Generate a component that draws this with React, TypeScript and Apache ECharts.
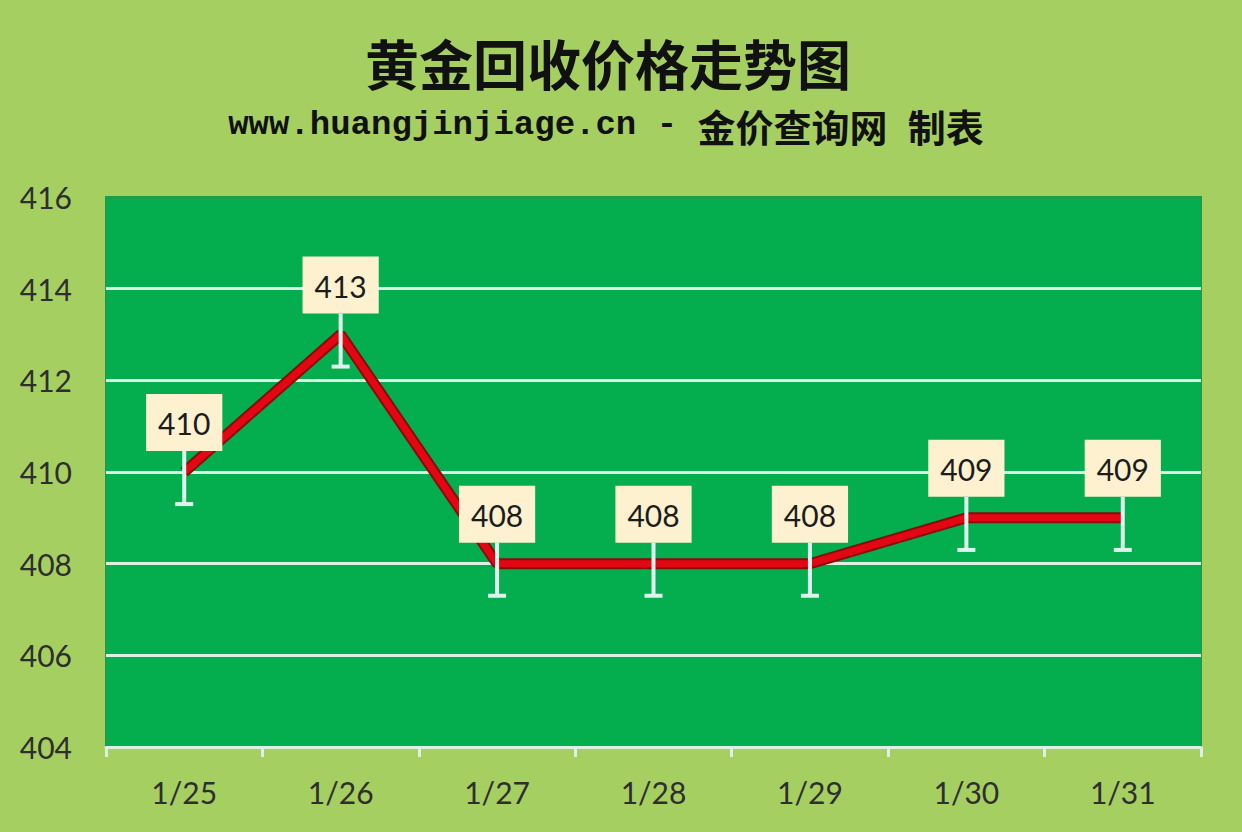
import React, { useEffect, useRef } from 'react';
import * as echarts from 'echarts';

const dates = ['1/25', '1/26', '1/27', '1/28', '1/29', '1/30', '1/31'];
const prices = [410, 413, 408, 408, 408, 409, 409];
const errorSize = 0.7;
const yMin = 404;
const yMax = 416;
const yStep = 2;

const titleText = '黄金回收价格走势图';

const App: React.FC = () => {
  const chartRef = useRef<HTMLDivElement>(null);

  useEffect(() => {
    if (!chartRef.current) return;
    const chart = echarts.init(chartRef.current, undefined, { renderer: 'svg' });

    const gridLine = '#dcf1e3';
    const plotGreen = '#04ae4f';
    const labelGap = 21;

    const option: any = {
      animation: false,
      backgroundColor: '#a6cf62',
      graphic: [
        {
          type: 'text',
          x: 608,
          y: 62,
          style: {
            text: titleText,
            font: 'bold 54px "Noto Sans CJK SC"',
            fill: '#111',
            textAlign: 'center',
            textVerticalAlign: 'middle'
          }
        },
        {
          type: 'text',
          x: 606,
          y: 125,
          style: {
            text: '{a|www.huangjinjiage.cn - }{b|金价查询网}{a| }{b|制表}',
            textAlign: 'center',
            textVerticalAlign: 'middle',
            rich: {
              a: {
                fontFamily: '"Liberation Mono", "DejaVu Sans Mono", monospace',
                fontWeight: 'bold',
                fontSize: 34,
                fill: '#111'
              },
              b: {
                fontFamily: '"Noto Sans CJK SC"',
                fontWeight: 'bold',
                fontSize: 38,
                fill: '#111'
              }
            }
          }
        }
      ],
      grid: {
        left: 106,
        right: 41,
        top: 197,
        bottom: 85,
        show: true,
        backgroundColor: plotGreen,
        borderColor: '#1f9c49',
        borderWidth: 2
      },
      xAxis: {
        type: 'category',
        data: dates,
        boundaryGap: true,
        axisLine: { lineStyle: { color: gridLine, width: 3 } },
        axisTick: { show: true, length: 10, lineStyle: { color: gridLine, width: 3 } },
        axisLabel: {
          color: '#2e2e2e',
          fontFamily: 'Lato',
          fontSize: 30,
          margin: 30
        },
        splitLine: { show: false }
      },
      yAxis: {
        type: 'value',
        min: yMin,
        max: yMax,
        interval: yStep,
        axisLine: { show: false },
        axisTick: { show: false },
        axisLabel: {
          color: '#2e2e2e',
          fontFamily: 'Lato',
          fontSize: 30,
          margin: 34
        },
        splitLine: {
          lineStyle: {
            color: [gridLine, gridLine, gridLine, gridLine, gridLine, gridLine, '#1f9c49'],
            width: 3
          }
        }
      },
      series: [
        {
          type: 'line',
          data: prices,
          symbol: 'none',
          z: 2,
          lineStyle: { color: '#8a0b0b', width: 11 }
        },
        {
          type: 'line',
          data: prices,
          symbol: 'none',
          z: 3,
          lineStyle: { color: '#e30613', width: 7 }
        },
        {
          type: 'custom',
          z: 4,
          data: prices.map((v, i) => [i, v]),
          encode: { x: 0, y: 1 },
          renderItem: (params: any, api: any) => {
            const idx = api.value(0);
            const v = api.value(1);
            const mid = api.coord([idx, v]);
            const bot = api.coord([idx, v - errorSize]);
            const cap = 9;
            const style = { stroke: '#dff3ee', lineWidth: 4 };
            return {
              type: 'group',
              children: [
                { type: 'line', shape: { x1: mid[0], y1: mid[1] - labelGap, x2: bot[0], y2: bot[1] }, style },
                { type: 'line', shape: { x1: bot[0] - cap, y1: bot[1], x2: bot[0] + cap, y2: bot[1] }, style }
              ]
            };
          }
        },
        {
          type: 'scatter',
          data: prices,
          symbolSize: 0,
          z: 5,
          itemStyle: { opacity: 1 },
          label: {
            show: true,
            position: 'top',
            distance: labelGap,
            color: '#1c1c1c',
            fontFamily: 'Lato',
            fontSize: 30,
            lineHeight: 36,
            backgroundColor: '#fdf1cf',
            padding: [11, 12, 10, 12]
          }
        }
      ]
    };

    chart.setOption(option);

    return () => {
      chart.dispose();
    };
  }, []);

  return (
    <div
      ref={chartRef}
      style={{ position: 'absolute', left: 0, top: 0, width: 1242, height: 832 }}
    />
  );
};

export default App;
